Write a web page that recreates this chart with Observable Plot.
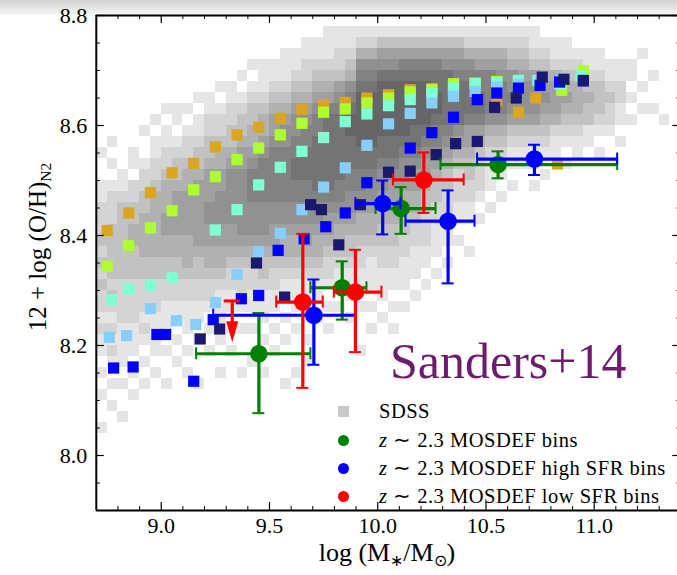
<!DOCTYPE html>
<html><head><meta charset="utf-8">
<script src="https://cdn.jsdelivr.net/npm/d3@7"></script>
<script src="https://cdn.jsdelivr.net/npm/@observablehq/plot@0.6"></script>
<style>
html,body{margin:0;padding:0;background:#fff;overflow:hidden;}
#wrap{position:relative;width:677px;height:575px;overflow:hidden;background:#fff;}
#shadow{position:absolute;left:0;top:0;width:677px;height:16px;background:linear-gradient(#d2d2d2,#f3f3f3 85%,#fff);}
#chart{position:absolute;left:0;top:0;}
.ov{position:absolute;font-family:"Liberation Serif","Times New Roman",serif;color:#000;white-space:nowrap;}
sub{font-size:62%;vertical-align:-0.3em;line-height:0;}
</style></head><body>
<div id="wrap"><div id="shadow"></div><div id="chart"></div></div>
<script>
// ---------- scales ----------
const xDomain = [8.7, 11.4];
const yDomain = [7.9, 8.8];
const xRange = [95.8, 680.3];
const yRange = [510, 15];
const kx = (xDomain[1] - xDomain[0]) / (xRange[1] - xRange[0]);
const ky = (yDomain[1] - yDomain[0]) / (yRange[0] - yRange[1]);

// ---------- ticks ----------
const xMajorTicks = [9.0, 9.5, 10.0, 10.5, 11.0];
const xMinorTicks = [8.8, 8.9, 9.1, 9.2, 9.3, 9.4, 9.6, 9.7, 9.8, 9.9, 10.1, 10.2, 10.3, 10.4, 10.6, 10.7, 10.8, 10.9, 11.1, 11.2, 11.3];
const yMajorTicks = [8.0, 8.2, 8.4, 8.6, 8.8];
const yMinorTicks = [7.95, 8.05, 8.1, 8.15, 8.25, 8.3, 8.35, 8.45, 8.5, 8.55, 8.65, 8.7, 8.75];

// ---------- SDSS 2D histogram (gray level 0-9), read per mass column ----------
// columns: 8.70-8.75, 8.75-8.80, ... ; each string from 12+log(O/H)=8.80 downward in 0.02 steps
const sdssGrid = {x0: 8.70, dx: 0.05, y0: 8.80, dy: 0.02};
const sdssColumns = [
"00000 00000 00100 11222 32323 22121 10101 00100 00000",
"00000 00000 01010 12223 33332 32121 21010 10000 00000",
"00000 00000 00001 12333 33332 22211 11010 01000 00000",
"00000 00000 00110 22334 43332 22211 10101 00000 00000",
"00000 00000 10012 23344 44332 22121 01010 00000 00000",
"00000 00001 01122 34444 44332 22111 10100 00000 00000",
"00000 00010 11223 44455 44332 21110 10010 00000 00000",
"00000 00011 01233 45555 44332 21101 01000 00000 00000",
"00000 00010 12234 45555 44432 21110 10100 00000 00000",
"00000 00101 12334 55555 54332 21101 00010 00000 00000",
"00000 00112 23345 55665 54432 21010 10000 00000 00000",
"00000 01012 23445 56665 54432 11101 00100 00000 00000",
"00000 01122 33456 66665 54322 11010 10000 00000 00000",
"00000 10123 34556 66666 54322 21010 00100 00000 00000",
"00001 01233 44567 77666 54322 11010 01000 00000 00000",
"00001 11234 45677 77666 54332 11101 00100 00000 00000",
"00001 12345 56777 77665 54322 11010 10000 00000 00000",
"00011 12345 66777 77665 44321 10101 00010 00000 00000",
"00011 23456 67788 77665 44321 11010 00100 00000 00000",
"00112 23456 77888 77665 54321 10101 01000 00000 00000",
"00112 34567 78888 87665 44321 10100 00000 00000 00000",
"01112 34578 88888 87655 43221 01010 00000 00000 00000",
"01122 35678 88888 77654 43211 01000 00000 00000 00000",
"01123 46789 98887 76654 33211 10100 00000 00000 00000",
"01246 78999 99887 76544 32211 01000 10000 00000 00000",
"01246 78999 99887 66544 32111 01010 00000 00000 00000",
"01356 89999 98876 65443 32211 10100 00000 00000 00000",
"01356 89999 98876 55443 32211 01010 00000 00000 00000",
"01357 89999 98766 54433 22111 01000 00000 00000 00000",
"01357 89999 88765 54432 21110 10000 00000 00000 00000",
"01357 89999 87655 43322 21101 00000 00000 00000 00000",
"01357 88998 77654 33221 11010 00000 00000 00000 00000",
"01356 88888 76543 32211 10100 00000 00000 00000 00000",
"01356 78888 65432 22110 10000 00000 00000 00000 00000",
"01246 78887 55433 22110 01000 00000 00000 00000 00000",
"01245 77887 54322 21010 00000 00000 00000 00000 00000",
"01245 77776 43211 10100 00000 00000 00000 00000 00000",
"01245 67776 43211 01000 00000 00000 00000 00000 00000",
"01234 66765 32110 10000 00000 00000 00000 00000 00000",
"01234 56665 32110 00000 00000 00000 00000 00000 00000",
"01123 56665 32110 10000 00000 00000 00000 00000 00000",
"00123 45654 32101 00000 00000 00000 00000 00000 00000",
"00112 45554 21100 00000 00000 00000 00000 00000 00000",
"00112 34543 21010 00000 00000 00000 00000 00000 00000",
"00012 34443 21100 00000 00000 00000 00000 00000 00000",
"00011 23433 11000 00000 00000 00000 00000 00000 00000",
"00011 23332 10100 00000 00000 00000 00000 00000 00000",
"00001 12322 10000 00000 00000 00000 00000 00000 00000",
"00001 12211 01000 00000 00000 00000 00000 00000 00000",
"00001 10101 00000 00000 00000 00000 00000 00000 00000",
"00010 01010 00000 00000 00000 00000 00000 00000 00000",
"00000 10010 00000 00000 00000 00000 00000 00000 00000",
"00000 00001 00000 00000 00000 00000 00000 00000 00000",
"00000 00000 00000 00000 00000 00000 00000 00000 00000"
];
const grayLevels = ["#e5e5e5","#d4d4d4","#c2c2c2","#b1b1b1","#a0a0a0","#919191","#828282","#747474","#666666"];

// ---------- SFR-binned SDSS stacks (mass, metallicity) ----------
const goldenrodBins = [[8.75,8.409],[8.85,8.441],[8.95,8.478],[9.05,8.514],[9.15,8.531],[9.25,8.561],[9.35,8.583],[9.45,8.597],[9.55,8.613],[9.65,8.629],[9.75,8.638],[9.85,8.642],[9.95,8.650],[10.05,8.656],[10.15,8.665],[10.25,8.667],[10.35,8.671],[10.45,8.678],[10.55,8.645],[10.65,8.624],[10.73,8.650],[10.83,8.530]];
const greenyellowBins = [[8.75,8.344],[8.85,8.382],[8.95,8.414],[9.05,8.445],[9.15,8.483],[9.25,8.507],[9.35,8.538],[9.45,8.559],[9.55,8.583],[9.65,8.604],[9.75,8.624],[9.85,8.630],[9.95,8.641],[10.05,8.650],[10.15,8.661],[10.25,8.665],[10.35,8.676],[10.45,8.676],[10.55,8.680],[10.65,8.679],[10.75,8.680],[10.85,8.664],[10.95,8.700]];
const aquamarineBins = [[8.77,8.283],[8.85,8.303],[8.95,8.309],[9.05,8.323],[9.25,8.410],[9.35,8.447],[9.45,8.492],[9.55,8.524],[9.65,8.553],[9.75,8.578],[9.85,8.607],[9.95,8.621],[10.05,8.636],[10.15,8.647],[10.25,8.658],[10.35,8.668],[10.45,8.676],[10.55,8.678],[10.65,8.682],[10.74,8.682],[10.84,8.676],[10.94,8.690]];
const skyblueBins = [[8.76,8.215],[8.84,8.218],[8.95,8.267],[9.07,8.245],[9.16,8.238],[9.25,8.278],[9.35,8.329],[9.45,8.371],[9.55,8.404],[9.65,8.447],[9.75,8.488],[9.85,8.523],[9.95,8.564],[10.05,8.603],[10.15,8.622],[10.25,8.641],[10.35,8.653],[10.45,8.662],[10.55,8.670],[10.65,8.675],[10.75,8.680],[10.85,8.685]];
const blueBins = [[8.78,8.159],[8.87,8.161],[8.98,8.220],[9.02,8.220],[9.15,8.135],[9.24,8.247],[9.37,8.285],[9.45,8.291],[9.54,8.373],[9.66,8.394],[9.76,8.416],[9.85,8.441],[9.95,8.496],[10.15,8.559],[10.25,8.587],[10.35,8.615],[10.46,8.647],[10.55,8.659],[10.65,8.668],[10.75,8.673],[10.84,8.679],[10.95,8.681]];
const midnightBins = [[9.18,8.212],[9.27,8.230],[9.44,8.350],[9.57,8.288],[9.69,8.456],[9.74,8.447],[9.82,8.383],[9.92,8.456],[10.05,8.515],[10.15,8.517],[10.27,8.547],[10.36,8.567],[10.46,8.571],[10.54,8.633],[10.64,8.650],[10.76,8.688],[10.86,8.684],[10.95,8.682]];
const binSeries = [
  {color: "#DAA520", data: goldenrodBins},
  {color: "#ADFF2F", data: greenyellowBins},
  {color: "#7FFFD4", data: aquamarineBins},
  {color: "#87CEFA", data: skyblueBins},
  {color: "#0000FF", data: blueBins},
  {color: "#191970", data: midnightBins}
];

// ---------- MOSDEF z~2.3 stacks ----------
const mosdefAll = [
  {x:9.451,y:8.185,xlo:9.161,xhi:9.689,ylo:8.077,yhi:8.259},
  {x:9.836,y:8.305,xlo:9.689,xhi:9.948,ylo:8.247,yhi:8.353},
  {x:10.108,y:8.449,xlo:9.990,xhi:10.267,ylo:8.403,yhi:8.488},
  {x:10.556,y:8.529,xlo:10.290,xhi:11.106,ylo:8.504,yhi:8.553}
];
const mosdefHighSFR = [
  {x:9.705,y:8.255,xlo:9.240,xhi:9.897,ylo:8.165,yhi:8.320},
  {x:10.023,y:8.458,xlo:9.897,xhi:10.105,ylo:8.402,yhi:8.500},
  {x:10.325,y:8.426,xlo:10.128,xhi:10.447,ylo:8.313,yhi:8.482},
  {x:10.724,y:8.539,xlo:10.459,xhi:11.106,ylo:8.510,yhi:8.565}
];
const mosdefLowSFR = [
  {x:9.654,y:8.279,xlo:9.531,xhi:9.746,ylo:8.123,yhi:8.403},
  {x:9.897,y:8.297,xlo:9.797,xhi:10.017,ylo:8.188,yhi:8.374},
  {x:10.213,y:8.501,xlo:10.070,xhi:10.397,ylo:8.441,yhi:8.551}
];
const mosdefLowSFRLimit = [{x:9.328, y:8.281, tip:8.206}];

const legendLabels = ["SDSS", "<i>z</i> ∼ 2.3 MOSDEF bins", "<i>z</i> ∼ 2.3 MOSDEF high SFR bins", "<i>z</i> ∼ 2.3 MOSDEF low SFR bins"];
const legendColors = ["#c8c8c8", "#008000", "#0000ff", "#ff0000"];

// ---------- build ----------
const sdssCells = [];
sdssColumns.forEach((s, i) => {
  const t = s.replace(/\s/g, "");
  for (let j = 0; j < t.length; j++) {
    const v = +t[j];
    if (v > 0) sdssCells.push({
      x1: sdssGrid.x0 + i * sdssGrid.dx, x2: sdssGrid.x0 + (i + 1) * sdssGrid.dx,
      y1: sdssGrid.y0 - (j + 1) * sdssGrid.dy, y2: sdssGrid.y0 - j * sdssGrid.dy, level: v
    });
  }
});

const capHalf = 6; // px
function errorMarks(data, color) {
  return [
    Plot.ruleY(data, {y: "y", x1: "xlo", x2: "xhi", stroke: color, strokeWidth: 3.2}),
    Plot.ruleX(data, {x: "x", y1: "ylo", y2: "yhi", stroke: color, strokeWidth: 3.2}),
    Plot.ruleY(data, {y: "ylo", x1: d => d.x - capHalf * kx, x2: d => d.x + capHalf * kx, stroke: color, strokeWidth: 2}),
    Plot.ruleY(data, {y: "yhi", x1: d => d.x - capHalf * kx, x2: d => d.x + capHalf * kx, stroke: color, strokeWidth: 2}),
    Plot.ruleX(data, {x: "xlo", y1: d => d.y - capHalf * ky, y2: d => d.y + capHalf * ky, stroke: color, strokeWidth: 2}),
    Plot.ruleX(data, {x: "xhi", y1: d => d.y - capHalf * ky, y2: d => d.y + capHalf * ky, stroke: color, strokeWidth: 2}),
    Plot.dot(data, {x: "x", y: "y", r: 8.8, fill: color, stroke: "none"})
  ];
}
const arrowHead = {draw(ctx) { ctx.moveTo(-6, -21); ctx.lineTo(6, -21); ctx.lineTo(0, 0); ctx.closePath(); }};
// square marker drawn at a fixed pixel side (style, not data)
const squareMarker = {draw(ctx) { ctx.rect(-5.6, -5.6, 11.2, 11.2); }};

const chart = Plot.plot({
  width: 677, height: 575,
  x: {domain: xDomain, range: xRange, axis: null},
  y: {domain: yDomain, range: yRange, axis: null},
  color: {type: "identity"},
  style: {background: "transparent", fontFamily: "Liberation Serif, serif", fontSize: "22px", color: "#000"},
  marks: [
    Plot.rect(sdssCells, {x1: "x1", x2: "x2", y1: "y1", y2: "y2", fill: d => grayLevels[d.level - 1], shapeRendering: "crispEdges"}),
    ...binSeries.map(s => Plot.dot(s.data, {x: d => d[0], y: d => d[1], symbol: squareMarker, r: 5, fill: s.color, stroke: "none"})),
    ...errorMarks(mosdefAll, "#008000"),
    ...errorMarks(mosdefHighSFR, "#0000ff"),
    ...errorMarks(mosdefLowSFR, "#ff0000"),
    Plot.ruleX(mosdefLowSFRLimit, {x: "x", y1: d => d.tip + 12 * ky, y2: "y", stroke: "#ff0000", strokeWidth: 3.2}),
    Plot.ruleY(mosdefLowSFRLimit, {y: "y", x1: d => d.x - 8 * kx, x2: d => d.x + 8 * kx, stroke: "#ff0000", strokeWidth: 3}),
    Plot.dot(mosdefLowSFRLimit, {x: "x", y: "tip", symbol: arrowHead, fill: "#ff0000", stroke: "none", r: 5}),
    // frame
    Plot.ruleX([xDomain[0], xDomain[1]], {x: d => d, y1: yDomain[0], y2: yDomain[1], stroke: "#000", strokeWidth: 2}),
    Plot.ruleY([yDomain[0], yDomain[1]], {y: d => d, x1: xDomain[0], x2: xDomain[1], stroke: "#000", strokeWidth: 2}),
    // x ticks bottom/top
    Plot.ruleX(xMajorTicks, {x: d => d, y1: yDomain[0], y2: yDomain[0] + 8 * ky, stroke: "#000", strokeWidth: 1.2}),
    Plot.ruleX(xMinorTicks, {x: d => d, y1: yDomain[0], y2: yDomain[0] + 4 * ky, stroke: "#000", strokeWidth: 1}),
    Plot.ruleX(xMajorTicks, {x: d => d, y1: yDomain[1], y2: yDomain[1] - 8 * ky, stroke: "#000", strokeWidth: 1.2}),
    Plot.ruleX(xMinorTicks, {x: d => d, y1: yDomain[1], y2: yDomain[1] - 4 * ky, stroke: "#000", strokeWidth: 1}),
    // y ticks left/right
    Plot.ruleY(yMajorTicks, {y: d => d, x1: xDomain[0], x2: xDomain[0] + 8 * kx, stroke: "#000", strokeWidth: 1.2}),
    Plot.ruleY(yMinorTicks, {y: d => d, x1: xDomain[0], x2: xDomain[0] + 4 * kx, stroke: "#000", strokeWidth: 1}),
    Plot.ruleY(yMajorTicks, {y: d => d, x1: xDomain[1], x2: xDomain[1] - 8 * kx, stroke: "#000", strokeWidth: 1.2}),
    Plot.ruleY(yMinorTicks, {y: d => d, x1: xDomain[1], x2: xDomain[1] - 4 * kx, stroke: "#000", strokeWidth: 1}),
    // tick labels
    Plot.text(xMajorTicks, {x: d => d, y: yDomain[0], text: d => d.toFixed(1), dy: 15, fontSize: 22, fill: "#000"}),
    Plot.text(yMajorTicks, {x: xDomain[0], y: d => d, text: d => d.toFixed(1), textAnchor: "end", dx: -9, fontSize: 22, fill: "#000"})
  ]
});
document.getElementById("chart").appendChild(chart);

// ---------- overlays: axis titles, legend, annotation ----------
const wrap = document.getElementById("wrap");
function ov(html, css) { const d = document.createElement("div"); d.className = "ov"; d.innerHTML = html; d.style.cssText += css; wrap.appendChild(d); return d; }
ov("log (M<sub>∗</sub>/M<sub>⊙</sub>)", "left:387px;top:553px;transform:translate(-50%,-50%);font-size:26px;");
ov("12 + log (O/H)<sub>N2</sub>", "left:38px;top:247px;transform:translate(-50%,-50%) rotate(-90deg);font-size:25px;");
ov("Sanders+14", "left:390px;top:336px;font-size:50px;line-height:50px;color:#6e1a6e;");
const legendY = [411, 440, 468, 496];
legendLabels.forEach((lab, i) => {
  const m = document.createElement("div");
  m.style.cssText = `position:absolute;left:${343 - 5.5}px;top:${legendY[i] - 5.5}px;width:11px;height:11px;background:${legendColors[i]};border-radius:${i === 0 ? 0 : 6}px;`;
  wrap.appendChild(m);
  ov(lab, `left:379px;top:${legendY[i] - 12}px;font-size:20.5px;line-height:24px;letter-spacing:0.5px;`);
});
</script></body></html>
